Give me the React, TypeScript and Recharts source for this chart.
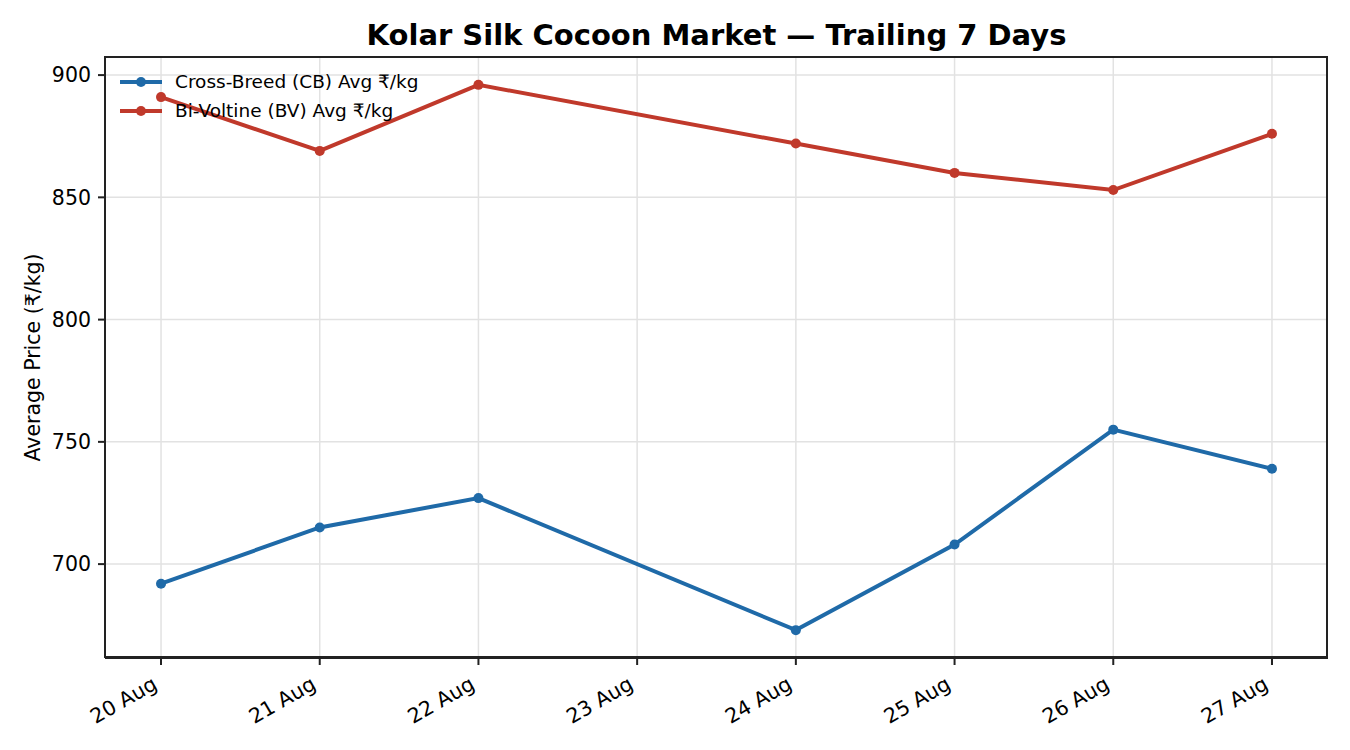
import React from 'react';
import { LineChart, Line, XAxis, YAxis, CartesianGrid } from 'recharts';

// days of August with a market session (no trading on the 23rd)
const days = [20, 21, 22, 24, 25, 26, 27];
const cbAvg = [692, 715, 727, 673, 708, 755, 739];
const bvAvg = [891, 869, 896, 872, 860, 853, 876];
const dayTicks = [20, 21, 22, 23, 24, 25, 26, 27];
const priceTicks = [700, 750, 800, 850, 900];

const CB_COLOR = '#1f6aa8';
const BV_COLOR = '#c0392b';
const FONT = '"DejaVu Sans", sans-serif';
const SPINE = '#222';

const data = days.map((d, i) => ({ day: d, cb: cbAvg[i], bv: bvAvg[i] }));

const DayTick = ({ x, y, payload }: any) => (
  <g transform={`translate(${x - 2.5},${y + 23})`}>
    <text
      textAnchor="end"
      transform="rotate(-30)"
      fontSize={20.5}
      fill="#000"
      fontFamily={FONT}
    >
      {`${payload.value} Aug`}
    </text>
  </g>
);

const YLabel = ({ viewBox }: any) => {
  const cy = viewBox.y + viewBox.height / 2;
  return (
    <text
      x={33}
      y={cy}
      transform={`rotate(-90, 33, ${cy})`}
      textAnchor="middle"
      dominantBaseline="central"
      fontSize={20.5}
      fontFamily={FONT}
      fill="#000"
    >
      Average Price (₹/kg)
    </text>
  );
};

const LegendBox = () => {
  const items = [
    { label: 'Cross-Breed (CB) Avg ₹/kg', color: CB_COLOR },
    { label: 'Bi-Voltine (BV) Avg ₹/kg', color: BV_COLOR },
  ];
  return (
    <div
      style={{
        position: 'absolute',
        left: 120,
        top: 67,
        fontFamily: FONT,
        fontSize: 18.5,
        lineHeight: '29px',
      }}
    >
      {items.map((it) => (
        <div key={it.label} style={{ display: 'flex', alignItems: 'center' }}>
          <svg width={42} height={12} style={{ marginRight: 13 }}>
            <line x1={0} y1={6} x2={42} y2={6} stroke={it.color} strokeWidth={4} />
            <circle cx={21} cy={6} r={5} fill={it.color} />
          </svg>
          <span>{it.label}</span>
        </div>
      ))}
    </div>
  );
};

export default function App() {
  return (
    <div style={{ position: 'absolute', left: 0, top: 0, width: 1350, height: 750, background: '#fff' }}>
      <div
        style={{
          position: 'absolute',
          top: 18,
          left: 105,
          width: 1223,
          textAlign: 'center',
          fontFamily: FONT,
          fontWeight: 'bold',
          fontSize: 29,
        }}
      >
        Kolar Silk Cocoon Market — Trailing 7 Days
      </div>
      <LineChart
        width={1350}
        height={750}
        data={data}
        margin={{ top: 57, right: 22, left: 25, bottom: 32 }}
      >
        <CartesianGrid stroke="#e2e2e2" strokeWidth={1.5} verticalValues={dayTicks} />
        <XAxis
          dataKey="day"
          type="number"
          domain={[19.647, 27.353]}
          ticks={dayTicks}
          tick={<DayTick />}
          tickSize={7}
          tickMargin={0}
          height={60}
          interval={0}
          stroke={SPINE}
          strokeWidth={2}
          allowDataOverflow
        />
        <YAxis
          type="number"
          domain={[661.6, 907.4]}
          ticks={priceTicks}
          width={80}
          tickSize={7}
          tickMargin={7}
          stroke={SPINE}
          strokeWidth={2}
          tick={{ fill: '#000', fontSize: 20.5, fontFamily: FONT }}
          allowDataOverflow
          label={<YLabel />}
        />
        <Line
          dataKey="cb"
          stroke={CB_COLOR}
          strokeWidth={4}
          dot={{ r: 5, fill: CB_COLOR, stroke: CB_COLOR, strokeWidth: 0 }}
          activeDot={false}
          isAnimationActive={false}
          type="linear"
        />
        <Line
          dataKey="bv"
          stroke={BV_COLOR}
          strokeWidth={4}
          dot={{ r: 5, fill: BV_COLOR, stroke: BV_COLOR, strokeWidth: 0 }}
          activeDot={false}
          isAnimationActive={false}
          type="linear"
        />
      </LineChart>
      {/* plot frame: matplotlib-style spines on all four sides */}
      <div
        style={{
          position: 'absolute',
          left: 104,
          top: 56,
          width: 1224,
          height: 602,
          border: `2px solid ${SPINE}`,
          boxSizing: 'border-box',
          pointerEvents: 'none',
        }}
      />
      <LegendBox />
    </div>
  );
}
